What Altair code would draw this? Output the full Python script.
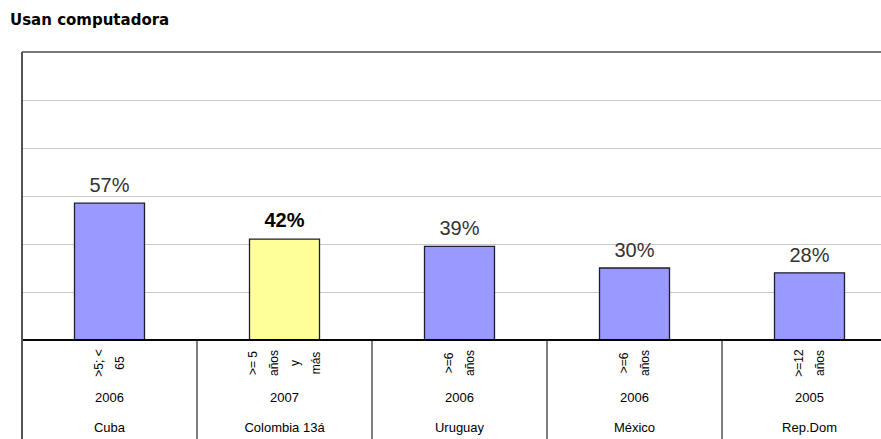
import altair as alt
import pandas as pd

# ---- data ----
countries = ["Cuba", "Colombia 13á", "Uruguay", "México", "Rep.Dom"]
years = ["2006", "2007", "2006", "2006", "2005"]
age_groups = [">5; <\n65", ">= 5\naños\ny\nmás", ">=6\naños", ">=6\naños", ">=12\naños"]
values = [57, 42, 39, 30, 28]
value_labels = ["57%", "42%", "39%", "30%", "28%"]
highlight = ["no", "sí", "no", "no", "no"]
grid_values = [20, 40, 60, 80, 100]
title_text = "Usan computadora"

df = pd.DataFrame({
    "pais": countries,
    "anio": years,
    "edad": age_groups,
    "valor": values,
    "etiqueta": value_labels,
    "destacado": highlight,
})
df["nlineas"] = df["edad"].str.count("\n") + 1

FONT = "Liberation Sans"
W, H = 859, 288
STEP = 175
LH = 21

x_enc = alt.X("pais:N", sort=countries,
              scale=alt.Scale(range=[0, 5 * STEP], paddingInner=0.6, paddingOuter=0.3),
              axis=None)
y_enc = alt.Y("valor:Q", scale=alt.Scale(domain=[0, 120], nice=False),
              axis=alt.Axis(values=grid_values, grid=True, gridColor="#c8c8c8", gridWidth=1.2,
                            labels=False, ticks=False, domain=False, title=None))

base = alt.Chart(df)

bars = base.mark_bar(stroke="#1e1e2e", strokeWidth=1.3).encode(
    x=x_enc, y=y_enc,
    color=alt.Color("destacado:N", scale=alt.Scale(domain=["no", "sí"], range=["#9999ff", "#ffff99"]),
                    legend=None),
)

vlabels = base.transform_filter(alt.datum.destacado == "no").mark_text(
    font=FONT, fontSize=20, color="#333333", baseline="alphabetic", dy=-11
).encode(x=x_enc, y=alt.Y("valor:Q"), text="etiqueta:N")

vlabels_bold = base.transform_filter(alt.datum.destacado == "sí").mark_text(
    font=FONT, fontSize=20, fontWeight="bold", color="#000000", baseline="alphabetic", dy=-12
).encode(x=x_enc, y=alt.Y("valor:Q"), text="etiqueta:N")

# table-like category area
dividers = base.mark_rule(color="#000000", strokeWidth=1, xOffset=-STEP / 2).encode(
    x=x_enc, y=alt.value(H), y2=alt.value(H + 100))

baseline = base.mark_rule(color="#000000", strokeWidth=1.2).encode(
    x=alt.value(0), x2=alt.value(W), y=alt.value(H))
top_border = base.mark_rule(color="#7a7a7a", strokeWidth=1.5).encode(
    x=alt.value(0), x2=alt.value(W), y=alt.value(0))
left_border = base.mark_rule(color="#555555", strokeWidth=1.5).encode(
    x=alt.value(0), y=alt.value(0), y2=alt.value(H + 100))

# rotated age-group labels, centred on each column (one layer per line count)
age_layers = []
for n in sorted(df["nlineas"].unique()):
    age_layers.append(
        base.transform_filter(alt.datum.nlineas == int(n)).mark_text(
            font=FONT, fontSize=12, angle=270, lineBreak="\n", lineHeight=LH,
            align="center", baseline="middle", color="#000000", dy=-(int(n) - 1) * LH / 2
        ).encode(x=x_enc, y=alt.value(311), text="edad:N")
    )

year_txt = base.mark_text(font=FONT, fontSize=13, baseline="middle", color="#000000").encode(
    x=x_enc, y=alt.value(346), text="anio:N")
country_txt = base.mark_text(font=FONT, fontSize=13, baseline="middle", color="#000000").encode(
    x=x_enc, y=alt.value(376), text="pais:N")

title_mark = alt.Chart(pd.DataFrame({"t": [title_text]})).mark_text(
    font="DejaVu Sans", fontSize=15, fontWeight="bold", align="left",
    baseline="alphabetic", color="#000000"
).encode(x=alt.value(-12), y=alt.value(-27), text="t:N")

chart = alt.layer(
    bars, vlabels, vlabels_bold, dividers, baseline, top_border, left_border,
    *age_layers, year_txt, country_txt, title_mark,
).properties(
    width=W, height=H,
    autosize=alt.AutoSizeParams(type="none"),
    padding={"left": 22, "right": 0, "top": 52, "bottom": 99},
).configure_view(stroke=None).configure(background="#ffffff")

chart.save("out.html", embed_options={"renderer": "svg", "actions": False})
